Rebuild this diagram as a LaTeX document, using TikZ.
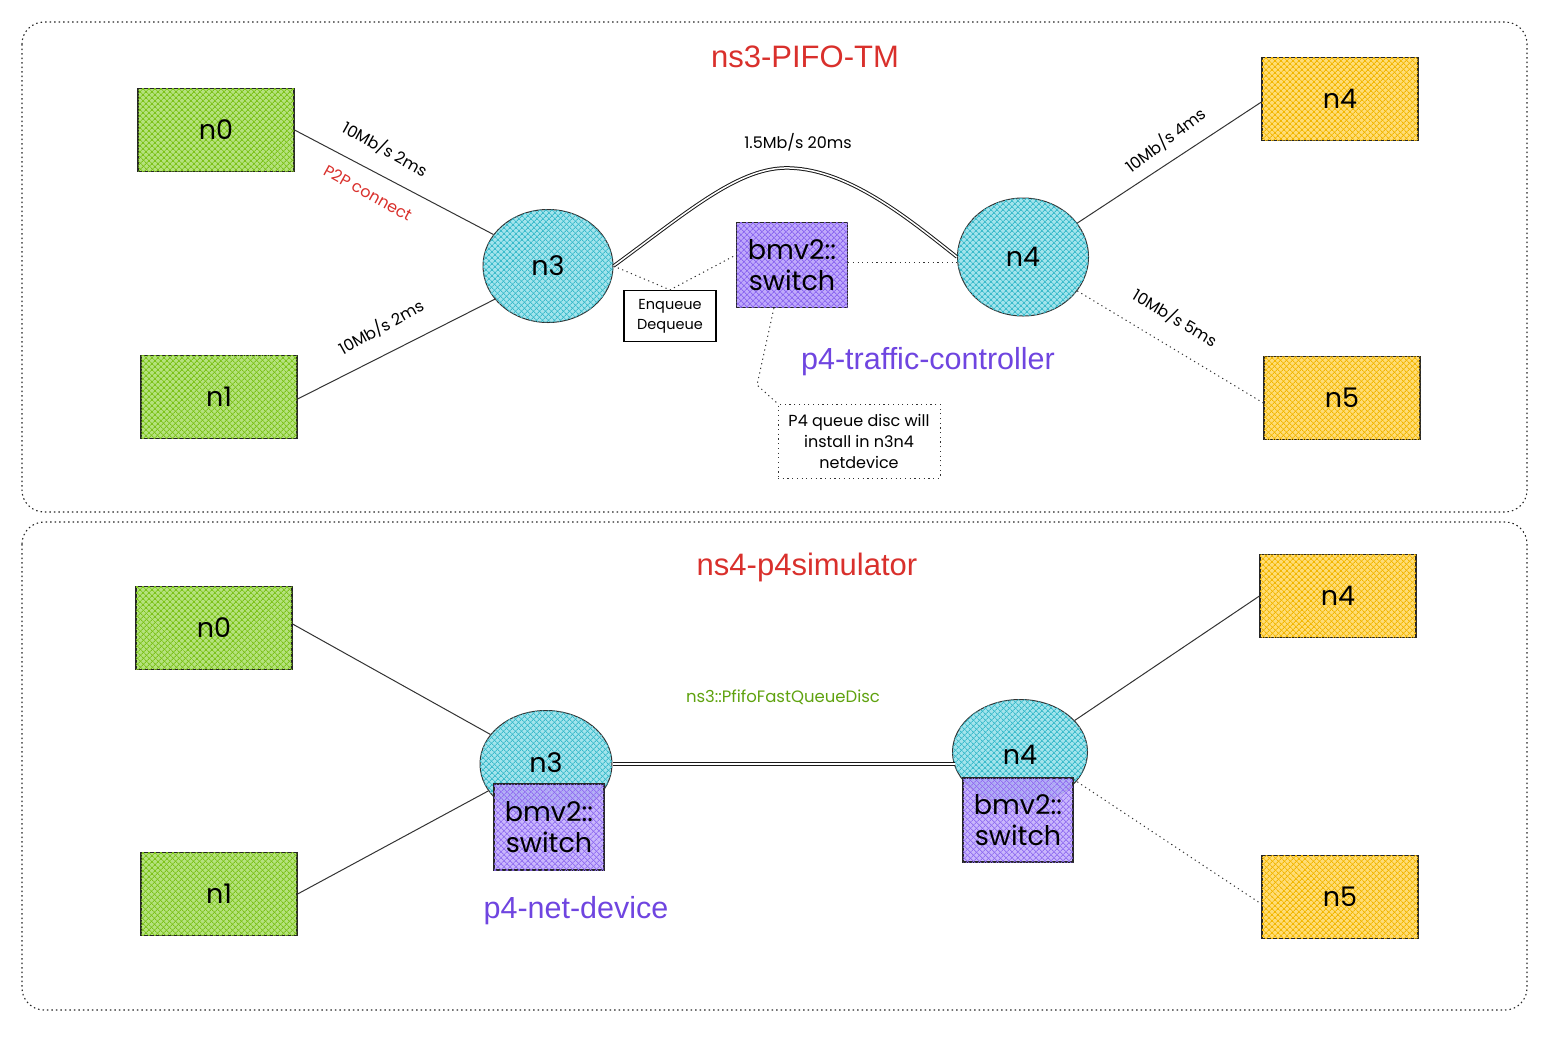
\documentclass[tikz,border=0pt]{standalone}
\usepackage{fontspec}
\setmainfont{Liberation Sans}
\newfontfamily\hand{Poppins}
\usetikzlibrary{shapes.geometric,patterns.meta}
\definecolor{gF}{HTML}{B5E27E}\definecolor{gH}{HTML}{7CC21A}
\definecolor{tF}{HTML}{A3E4EC}\definecolor{tH}{HTML}{3BBBCB}
\definecolor{pF}{HTML}{BFA9FB}\definecolor{pH}{HTML}{8C68F0}
\definecolor{oF}{HTML}{FFDD77}\definecolor{oH}{HTML}{F2B600}
\definecolor{ttl}{HTML}{D9302C}
\definecolor{pur}{HTML}{6F45E0}
\definecolor{grn}{HTML}{5FA20F}
\tikzset{
  hatch/.style={fill=#1F, postaction={pattern={Lines[angle=45,distance=4pt,line width=0.9pt]},pattern color=#1H},
                postaction={pattern={Lines[angle=-45,distance=4pt,line width=0.9pt]},pattern color=#1H}},
  hostbox/.style={draw=black!85, line width=1.2pt, minimum width=156, minimum height=83, font=\hand\fontsize{27}{29}\selectfont},
  green/.style={hostbox, hatch=g},
  orng/.style={hostbox, hatch=o},
  router/.style={ellipse, draw=black!80, line width=1pt, hatch=t, font=\hand\fontsize{27}{29}\selectfont},
  swbox/.style={draw=black!85, line width=1.2pt, hatch=p, minimum width=111, minimum height=85, align=center, font=\hand\fontsize{27}{31}\selectfont},
  panel/.style={draw=black!85, line width=1.1pt, dash pattern=on 1.5pt off 3pt, rounded corners=22},
  link/.style={draw=black!80, line width=1pt},
  dlink/.style={draw=black!90, double, double distance=1.5pt, line width=1pt},
  dots/.style={draw=black!80, line width=1pt, dash pattern=on 1.2pt off 3.5pt},
  elab/.style={font=\hand\fontsize{16}{18}\selectfont},
  ttlstyle/.style={font=\fontsize{31}{34}\selectfont, text=ttl},
  bluelab/.style={font=\fontsize{30.5}{33}\selectfont, text=pur},
}
\begin{document}
\begin{tikzpicture}[x=1pt,y=-1pt]
\useasboundingbox (0,0) rectangle (1549,1042);
% panels
\draw[panel] (22,22) rectangle (1527,512);
\draw[panel] (22,522) rectangle (1527,1010);
\node[ttlstyle] (ttop) at (805,57) {ns3-PIFO-TM};
\node[ttlstyle] (tbot) at (807,567) {ns4-p4simulator};

% ---------------- top panel ----------------
\node[green] (a0) at (216,130) {n0};
\node[green] (a1) at (219,397) {n1};
\node[router, minimum width=130, minimum height=113] (a3) at (548,266) {n3};
\node[router, minimum width=131, minimum height=118] (a4) at (1023,257) {n4};
\node[orng] (a5) at (1340,99) {n4};
\node[orng] (a6) at (1342,398) {n5};
\node[swbox] (asw) at (792,265) {bmv2::\\switch};
\node[draw=black, line width=1.2pt, minimum width=92, minimum height=51, align=center,
      font=\hand\fontsize{14.5}{20}\selectfont] (enq) at (670,316) {Enqueue\\Dequeue};
\node[dots, minimum width=162, minimum height=74, align=center,
      font=\hand\fontsize{16}{21}\selectfont] (note) at (859,441) {P4 queue disc will\\install in n3n4\\netdevice};

\draw[link] (a0.east) -- (a3.150);
\draw[link] ([yshift=-2]a1.east) -- (a3.212);
\draw[link] (a4.32) -- ([yshift=-3]a5.west);
\draw[dots] (a4.328) -- ([yshift=-5]a6.west);
\draw[dlink] (a3.east) .. controls (690,210) and (740,166) .. (790,168)
             .. controls (850,170) and (910,220) .. (a4.west);
\draw[dots] (a3.east) -- (enq.north) -- ([yshift=10]asw.west);
\draw[dots] ([yshift=3]asw.east) -- ([yshift=-5]a4.west);
\coordinate (bend) at (757,385);
\draw[dots] ([xshift=38]asw.south west) -- (bend) -- (note.north west);

\node[elab, rotate=-29] (l1) at (385,149) {10Mb/s 2ms};
\node[elab, rotate=-29, text=ttl] (l2) at (368,193) {P2P connect};
\node[elab, rotate=29] (l3) at (381,327) {10Mb/s 2ms};
\node[elab] (l4) at (798,142) {1.5Mb/s 20ms};
\node[elab, rotate=37] (l5) at (1166,140) {10Mb/s 4ms};
\node[elab, rotate=-31] (l6) at (1175,318) {10Mb/s 5ms};
\node[bluelab] (l7) at (928,362) {p4-traffic-controller};

% ---------------- bottom panel ----------------
\node[green] (b0) at (214,628) {n0};
\node[green] (b1) at (219,894) {n1};
\node[orng] (b5) at (1338,596) {n4};
\node[orng] (b6) at (1340,897) {n5};
\node[router, minimum width=132, minimum height=107] (b3) at (546,764) {};
\node[router, minimum width=135, minimum height=105] (b4) at (1020,752) {};
\draw[link] ([yshift=4]b0.east) -- (b3.152);
\draw[link] (b1.east) -- (b3.205);
\draw[link] (b4.30) -- (b5.west);
\draw[dots] ([xshift=-5]b4.335) -- ([yshift=-7]b6.west);
\draw[dlink] (b3.east) -- ([xshift=3]b4.west |- b3.east);
\node[font=\hand\fontsize{27}{29}\selectfont] (b3l) at (546,763) {n3};
\node[font=\hand\fontsize{27}{29}\selectfont] (b4l) at (1020,755) {n4};
\node[swbox, minimum width=110, minimum height=86, fill opacity=0.85, text opacity=1] (bsw1) at (549,827) {bmv2::\\switch};
\node[swbox, minimum width=110, minimum height=84, fill opacity=0.85, text opacity=1] (bsw2) at (1018,820) {bmv2::\\switch};
\node[font=\hand\fontsize{16.5}{18}\selectfont, text=grn] (q) at (783,697) {ns3::PfifoFastQueueDisc};
\node[bluelab] (l8) at (576,911) {p4-net-device};
\end{tikzpicture}
\end{document}
